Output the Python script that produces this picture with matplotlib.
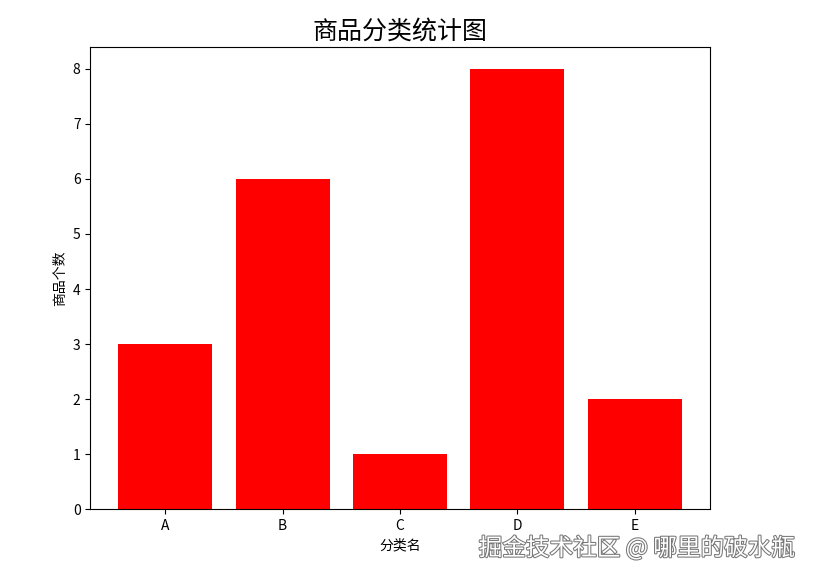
import matplotlib
matplotlib.use('Agg')
import matplotlib.pyplot as plt
import matplotlib.patheffects as pe

plt.rcParams['font.family'] = ['Noto Sans CJK SC', 'DejaVu Sans']
plt.rcParams['axes.unicode_minus'] = False

categories = ['A', 'B', 'C', 'D', 'E']
counts = [3, 6, 1, 8, 2]

fig = plt.figure(figsize=(8.13, 5.78), dpi=100)
ax = fig.add_axes([0.111, 0.119, 0.762, 0.800])

ax.bar(categories, counts, color='red', width=0.8)
ax.set_title('商品分类统计图', fontsize=18)
ax.set_xlabel('分类名', fontsize=10)
ax.set_ylabel('商品个数', fontsize=10)
ax.tick_params(labelsize=10)

# watermark
fig.text(0.978, 0.052, '掘金技术社区 @ 哪里的破水瓶', ha='right', va='center',
         fontsize=17, color='white',
         path_effects=[pe.withStroke(linewidth=1.5, foreground='#777777')])

fig.savefig('out.png', dpi=100)
